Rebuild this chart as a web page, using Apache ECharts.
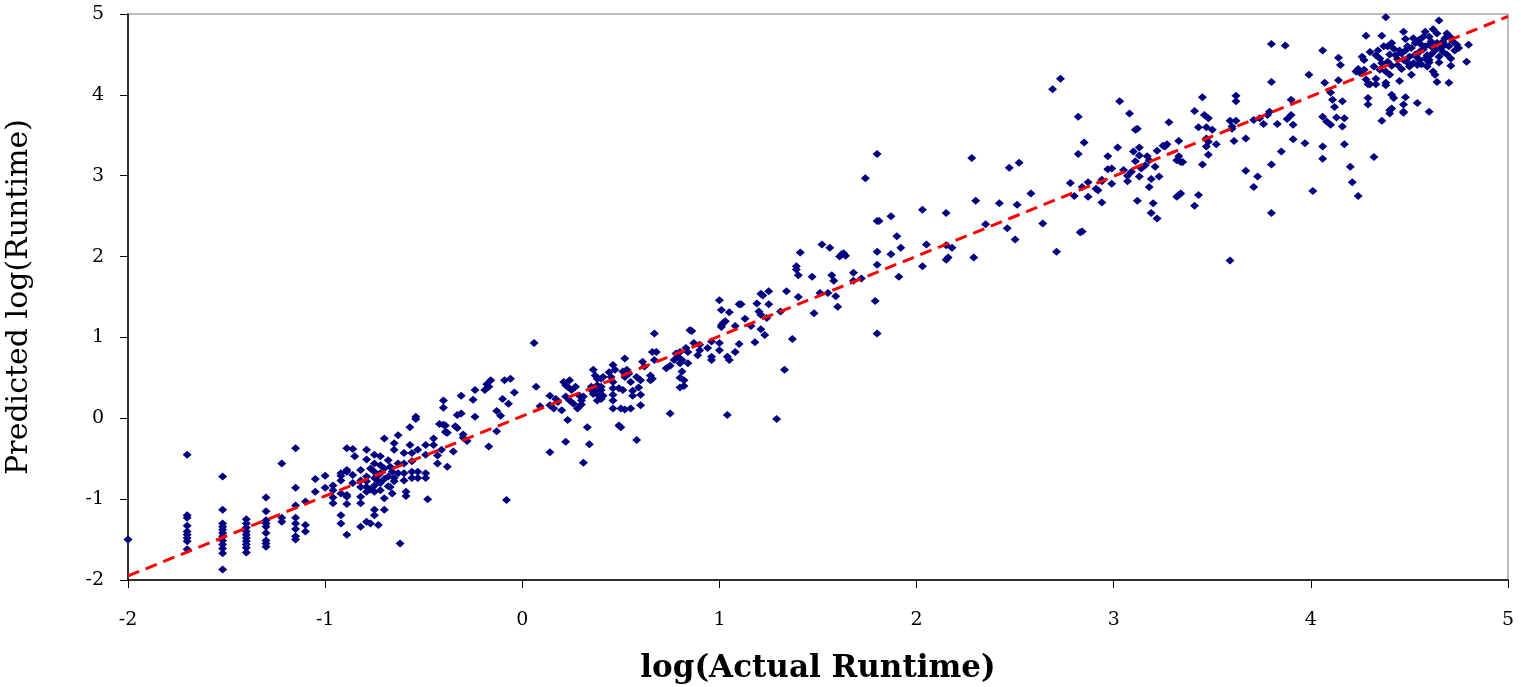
<!DOCTYPE html>
<html>
<head>
<meta charset="utf-8">
<script src="https://cdn.jsdelivr.net/npm/echarts@6/dist/echarts.min.js"></script>
<style>html,body{margin:0;padding:0;background:#fff}#chart{width:1521px;height:687px}</style>
</head>
<body>
<div id="chart"></div>
<script>
// Axis ticks
const xTicks = [-2, -1, 0, 1, 2, 3, 4, 5];
const yTicks = [-2, -1, 0, 1, 2, 3, 4, 5];
const xTitle = 'log(Actual Runtime)';
const yTitle = 'Predicted log(Runtime)';
// Reference (dashed) line end points
const refLine = [[-2, -1.95], [5, 4.97]];

// Observations [log actual, predicted log], grouped by region
const groupA = [
[-2.0,-1.5],
[-1.70,-0.45],[-1.70,-1.20],[-1.70,-1.23],[-1.70,-1.33],[-1.70,-1.40],[-1.70,-1.44],[-1.70,-1.48],[-1.70,-1.52],[-1.70,-1.62],
[-1.52,-0.72],[-1.52,-1.13],[-1.52,-1.30],[-1.52,-1.34],[-1.52,-1.38],[-1.52,-1.42],[-1.52,-1.46],[-1.52,-1.51],[-1.52,-1.56],[-1.52,-1.61],[-1.52,-1.67],[-1.52,-1.87],
[-1.40,-1.25],[-1.40,-1.30],[-1.40,-1.35],[-1.40,-1.40],[-1.40,-1.44],[-1.40,-1.48],[-1.40,-1.52],[-1.40,-1.56],[-1.40,-1.60],[-1.40,-1.66],
[-1.30,-0.98],[-1.30,-1.15],[-1.30,-1.26],[-1.30,-1.30],[-1.30,-1.34],[-1.30,-1.42],[-1.30,-1.51],[-1.30,-1.55],[-1.30,-1.59],
[-1.22,-0.56],[-1.22,-1.23],[-1.22,-1.28],
[-1.15,-0.37],[-1.15,-0.86],[-1.15,-1.08],[-1.15,-1.23],[-1.15,-1.30],[-1.15,-1.37],[-1.15,-1.46],[-1.15,-1.50],
[-1.10,-1.03],[-1.10,-1.32],[-1.10,-1.40]
];
const groupB = [
[-1.05,-0.75],[-1.05,-0.91],[-1.00,-0.71],[-1.00,-0.86],
[-0.96,-0.83],[-0.96,-0.89],[-0.96,-0.98],[-0.96,-1.05],
[-0.92,-0.68],[-0.92,-0.71],[-0.92,-0.77],[-0.92,-0.93],[-0.92,-1.20],[-0.92,-1.30],
[-0.89,-0.37],[-0.89,-0.64],[-0.89,-0.66],[-0.89,-0.95],[-0.89,-0.97],[-0.89,-1.06],[-0.89,-1.44],
[-0.86,-0.38],[-0.85,-0.47],[-0.86,-0.70],[-0.86,-0.80],
[-0.82,-0.64],[-0.82,-0.77],[-0.82,-0.85],[-0.82,-0.97],[-0.82,-1.05],[-0.82,-1.34],
[-0.79,-0.39],[-0.79,-0.51],[-0.79,-0.72],[-0.79,-0.78],[-0.79,-0.85],[-0.79,-0.91],[-0.79,-1.28],
[-0.77,-1.30],[-0.77,-0.62],[-0.77,-0.88],
[-0.75,-0.45],[-0.75,-0.56],[-0.75,-0.66],[-0.75,-0.74],[-0.75,-0.83],[-0.75,-0.91],[-0.75,-1.13],[-0.75,-1.20],
[-0.73,-1.32],[-0.73,-0.70],[-0.73,-0.78],
[-0.72,-0.47],[-0.72,-0.58],[-0.72,-0.68],[-0.72,-0.80],[-0.72,-0.89],
[-0.70,-0.25],[-0.70,-0.99],[-0.70,-1.13],[-0.70,-0.62],[-0.70,-0.75],
[-0.68,-0.52],[-0.68,-0.72],[-0.68,-0.84],
[-0.67,-0.60],[-0.67,-0.85],[-0.66,-0.66],[-0.66,-0.93],
[-0.65,-0.31],[-0.65,-0.39],[-0.65,-0.74],[-0.65,-0.78],
[-0.63,-0.21],[-0.62,-1.55],[-0.63,-0.56],[-0.63,-0.68],
[-0.60,-0.43],[-0.60,-0.56],[-0.60,-0.68],[-0.60,-0.77],
[-0.59,-0.91],[-0.59,-0.96],
[-0.57,-0.11],[-0.57,-0.33],
[-0.56,-0.43],[-0.56,-0.53],[-0.56,-0.66],[-0.56,-0.74],
[-0.54,0.02],[-0.54,-0.01],
[-0.53,-0.39],[-0.53,-0.66],[-0.53,-0.74],
[-0.49,-0.33],[-0.49,-0.45],[-0.49,-0.68],[-0.49,-0.74],
[-0.48,-1.00],
[-0.45,-0.25],[-0.45,-0.33],[-0.43,-0.46],[-0.43,-0.56],
[-0.40,-0.08],[-0.39,-0.17],[-0.41,-0.39],[-0.38,-0.60],[-0.35,-0.41],
[-0.40,0.22],[-0.40,0.13],[-0.38,-0.18],[-0.42,-0.07],[-0.39,-0.09],[-0.34,-0.10],
[-0.33,0.04],[-0.31,0.06],[-0.33,-0.12],[-0.30,-0.24],[-0.28,-0.28],[-0.30,-0.20]
];
const groupC = [
[-0.31,0.28],[-0.25,0.23],[-0.24,0.35],[-0.24,0.02],
[-0.19,0.35],[-0.18,0.42],[-0.16,0.47],[-0.17,0.39],[-0.17,-0.35],
[-0.09,0.47],[-0.06,0.49],
[-0.04,0.32],[-0.10,0.24],[-0.07,0.18],[-0.13,0.09],[-0.11,0.03],[-0.13,-0.16],[-0.08,-1.01],
[0.06,0.93],[0.07,0.39],[0.09,0.15],
[0.14,0.28],[0.17,0.24],[0.18,0.20],[0.14,0.16],[0.16,0.12],[0.20,0.10],[0.14,-0.42],
[0.23,-0.02],[0.22,-0.29],
[0.21,0.45],[0.24,0.47],[0.23,0.39],[0.27,0.39],[0.22,0.41],[0.25,0.35],[0.22,0.27],[0.24,0.22],[0.26,0.18],
[0.29,0.28],[0.30,0.17],[0.28,0.12],[0.30,0.22],[0.31,0.27],
[0.36,0.60],[0.37,0.53],
[0.33,-0.11],[0.34,-0.32],[0.31,-0.55],
[0.35,0.39],[0.35,0.35],[0.36,0.30],[0.37,0.33],
[0.38,0.49],[0.38,0.41],[0.40,0.35],[0.39,0.28],[0.40,0.24],[0.38,0.22],
[0.40,0.49],[0.41,0.51],[0.40,0.39],[0.41,0.28],
[0.44,0.57],[0.46,0.66],[0.47,0.60],[0.45,0.51],
[0.46,0.45],[0.46,0.37],[0.46,0.29],[0.46,0.22],[0.46,0.12],
[0.49,-0.09],[0.50,-0.11],
[0.49,0.37],[0.51,0.35],
[0.52,0.74],[0.51,0.58],[0.53,0.60],[0.54,0.55],[0.52,0.51],
[0.55,0.45],[0.56,0.34],[0.56,0.28],[0.55,0.12],[0.50,0.12],[0.52,0.11],
[0.58,-0.27],
[0.61,0.70],[0.62,0.64],[0.60,0.47],[0.60,0.29],[0.60,0.16],[0.59,0.38],[0.58,0.51]
];
const groupD = [
[0.65,0.53],[0.66,0.49],[0.65,0.47],[0.66,0.82],[0.68,0.82],[0.67,0.72],[0.67,1.05],
[0.73,0.62],[0.75,0.65],[0.75,0.06],
[0.77,0.72],[0.79,0.76],[0.80,0.68],[0.81,0.72],[0.78,0.80],[0.80,0.82],
[0.80,0.50],[0.80,0.38],[0.82,0.40],
[0.83,0.87],[0.84,0.82],[0.84,0.68],[0.85,1.09],[0.86,1.08],
[0.87,0.93],[0.90,0.91],[0.89,0.78],[0.90,0.84],
[0.94,0.87],[0.96,0.76],[0.96,0.72],[0.96,0.95],
[1.00,0.93],[1.00,0.84],[1.04,0.76],[1.05,0.72],[1.08,0.82],[1.04,0.04],
[0.81,0.58],[0.82,0.47],
[1.00,1.46],[1.01,1.34],[1.05,1.31],[1.10,1.41],[1.01,1.15],[1.02,1.18],[1.03,1.20],
[1.10,0.92],[1.18,0.94],[1.23,1.03],[1.21,1.10],[1.16,1.14],[1.08,1.14],[1.01,1.13],
[1.13,1.23],[1.20,1.32],[1.21,1.28],[1.24,1.24],
[1.11,1.41],[1.19,1.42],[1.25,1.41],
[1.21,1.54],[1.22,1.52],[1.25,1.57],[1.34,1.57],[1.31,1.32],
[1.37,0.98],[1.33,0.60],[1.29,-0.01]
];
const groupE = [
[1.39,1.88],[1.39,1.84],[1.40,1.77],[1.41,2.05],[1.40,1.50],
[1.47,1.75],[1.48,1.30],[1.51,1.55],[1.55,1.55],
[1.52,2.15],[1.56,2.11],
[1.57,1.77],[1.58,1.70],[1.59,1.51],[1.60,1.38],
[1.61,2.00],[1.62,2.03],[1.63,2.04],[1.64,2.01],
[1.68,1.80],[1.68,1.70],[1.72,1.73],
[1.74,2.97],[1.80,3.27],
[1.79,1.45],[1.80,1.05],
[1.80,2.44],[1.81,2.44],[1.80,2.06],[1.80,1.90],
[1.87,2.50],[1.87,2.03],[1.90,2.25],[1.92,2.11],[1.91,1.75],
[2.03,2.58],[2.03,1.88],[2.05,2.15],
[2.15,2.54],[2.15,2.14],[2.15,1.96],[2.16,1.99],[2.18,2.11],
[2.28,3.22],[2.29,1.99],[2.30,2.69],[2.35,2.40],
[2.42,2.66],[2.46,2.35],[2.47,3.10],[2.50,2.21],[2.51,2.64],[2.52,3.16],
[2.58,2.78],[2.64,2.41],[2.71,2.06]
];
const groupF = [
[2.69,4.07],[2.73,4.20],
[2.78,2.91],[2.80,2.75],[2.82,3.73],[2.85,3.41],[2.82,3.27],[2.83,2.30],[2.84,2.31],
[2.84,2.86],[2.87,2.92],[2.87,2.74],[2.91,2.84],[2.92,2.82],[2.94,2.93],[2.94,2.67],
[2.97,3.24],[2.97,3.08],[2.99,3.09],[2.99,2.90],[2.94,2.95],
[3.02,3.35],[3.03,3.92],[3.08,3.77],
[3.05,3.07],[3.07,3.00],[3.09,3.05],[3.11,3.18],[3.10,3.30],[3.13,3.25],[3.13,3.35],
[3.07,2.93],[3.11,3.57],[3.12,3.58],
[3.13,2.99],[3.14,3.09],[3.16,3.13],[3.12,2.69],[3.18,2.86],[3.20,2.66],[3.19,2.54],[3.22,2.47],
[3.17,3.24],[3.18,3.19],[3.21,3.11],[3.19,2.96],[3.23,2.99],
[3.22,3.31],[3.25,3.37],[3.27,3.39],[3.26,3.36],
[3.28,3.66],
[3.32,3.19],[3.33,3.24],[3.34,3.17],[3.35,3.17],[3.33,3.43],
[3.32,2.74],[3.33,2.76],[3.34,2.78],
[3.41,3.80],[3.45,3.97],[3.46,3.75],[3.48,3.71],[3.43,3.60],[3.47,3.60],[3.50,3.57],
[3.47,3.46],[3.48,3.42],[3.47,3.36],[3.52,3.39],[3.48,3.26],[3.45,3.14],[3.43,2.76],[3.41,2.63],
[3.59,3.68],[3.62,3.68],[3.60,3.58],[3.61,3.43],[3.62,3.92],[3.62,3.99],[3.59,1.95],
[3.60,3.61],[3.67,3.46],[3.67,3.06],[3.73,2.99],[3.71,2.86],[3.71,3.69]
];
const groupG = [
[3.80,4.63],[3.87,4.61],[4.06,4.55],[3.80,4.16],[3.99,4.25],
[4.14,4.46],[4.15,4.37],[4.07,4.15],[4.14,4.18],
[4.10,4.03],[4.11,3.94],[4.12,3.85],[4.16,3.92],[3.90,3.94],
[3.79,3.79],[3.78,3.75],[3.74,3.71],[3.76,3.64],[3.88,3.70],[3.90,3.75],[3.83,3.64],[3.91,3.63],
[4.06,3.73],[4.08,3.67],[4.10,3.63],[4.13,3.72],[4.17,3.71],[4.16,3.61],
[3.91,3.45],[3.97,3.40],[4.06,3.36],[4.17,3.39],
[3.85,3.30],[4.06,3.21],[3.80,3.14],[4.32,3.23],
[4.20,3.11],[4.21,2.92],[4.24,2.75],[4.01,2.81],[3.80,2.54],
[4.38,4.96],[4.65,4.92],
[4.28,4.73],[4.36,4.73],[4.47,4.78],[4.48,4.69],
[4.58,4.78],[4.60,4.72],[4.62,4.81],[4.64,4.76],[4.69,4.76],[4.71,4.71],
[4.72,4.66],[4.67,4.66],[4.80,4.62],[4.75,4.58],[4.79,4.41],
[4.71,4.45],[4.71,4.36],[4.70,4.15],[4.64,4.16],[4.62,4.29],[4.63,4.25],[4.59,4.35],
[4.54,4.37],[4.51,4.25],[4.45,4.17],[4.40,4.25],
[4.41,4.00],[4.42,3.96],[4.40,3.81],[4.48,3.97],[4.47,3.88],[4.47,3.79],[4.54,3.90],[4.60,3.79],
[4.38,4.15],[4.33,4.20],[4.28,4.19],[4.30,4.13],
[4.24,4.32],[4.23,4.29],[4.27,4.31],
[4.29,3.96],[4.29,3.88],
[4.36,3.68],[4.47,3.78],[4.40,3.77],[4.41,3.83],
[4.38,4.12],[4.33,4.13],[4.29,4.13]
];
const groupH = [
[4.26,4.47],[4.27,4.43],[4.30,4.53],[4.33,4.49],[4.35,4.45],[4.37,4.60],[4.39,4.41],[4.41,4.64],[4.43,4.49],[4.44,4.37],
[4.45,4.55],[4.47,4.43],[4.49,4.60],[4.50,4.47],[4.52,4.39],[4.53,4.64],[4.55,4.53],[4.55,4.43],[4.57,4.72],[4.58,4.60],
[4.59,4.49],[4.60,4.43],[4.61,4.66],[4.63,4.55],[4.65,4.47],[4.66,4.62],[4.67,4.53],[4.68,4.70],[4.70,4.60],
[4.23,4.29],[4.25,4.27],[4.32,4.35],[4.35,4.31],[4.38,4.29],
[4.40,4.50],[4.42,4.57],[4.46,4.51],[4.48,4.55],[4.51,4.58],[4.53,4.50],[4.56,4.62],[4.57,4.56],[4.62,4.58],[4.64,4.64],
[4.66,4.58],[4.68,4.62],[4.44,4.44],[4.49,4.40],[4.54,4.46],[4.58,4.45],[4.61,4.50],[4.36,4.39],[4.41,4.36],[4.46,4.32],
[4.50,4.35],[4.56,4.38],[4.60,4.40],[4.65,4.40],[4.69,4.50],[4.73,4.55],[4.74,4.62],[4.34,4.55],[4.39,4.60],[4.52,4.70],
[4.55,4.68],[4.60,4.62]
];

const points = [].concat(groupA, groupB, groupC, groupD, groupE, groupF, groupG, groupH);

const chart = echarts.init(document.getElementById('chart'), null, {renderer: 'canvas'});
const font = '"DejaVu Serif", "Liberation Serif", serif';
chart.setOption({
  animation: false,
  backgroundColor: '#ffffff',
  grid: {left: 128, right: 13, top: 14, bottom: 107, show: true, borderColor: '#a6a6a6', borderWidth: 1.5,
         containLabel: false, outerBoundsMode: 'none'},
  xAxis: {
    type: 'value', min: xTicks[0], max: xTicks[xTicks.length - 1], interval: 1,
    name: xTitle, nameLocation: 'middle', nameGap: 73,
    nameTextStyle: {fontFamily: font, fontSize: 31, fontWeight: 'bold', color: '#000'},
    axisLine: {onZero: false, lineStyle: {color: '#000', width: 1.5}},
    axisTick: {inside: false, length: 8, lineStyle: {color: '#000', width: 1}},
    axisLabel: {margin: 31, fontFamily: font, fontSize: 19, color: '#000'},
    splitLine: {show: false}
  },
  yAxis: {
    type: 'value', min: yTicks[0], max: yTicks[yTicks.length - 1], interval: 1,
    name: yTitle, nameLocation: 'middle', nameGap: 94,
    nameTextStyle: {fontFamily: font, fontSize: 30, color: '#000'},
    axisLine: {onZero: false, lineStyle: {color: '#000', width: 1.5}},
    axisTick: {inside: false, length: 8, lineStyle: {color: '#000', width: 1}},
    axisLabel: {margin: 24, fontFamily: font, fontSize: 19, color: '#000'},
    splitLine: {show: false}
  },
  series: [
    {
      type: 'scatter', data: points, symbol: 'diamond', symbolSize: [9, 8],
      itemStyle: {color: '#000080', opacity: 1}, z: 2
    },
    {
      type: 'line', data: refLine, symbol: 'none', silent: true, z: 3,
      lineStyle: {color: '#ff0000', width: 3, type: [12, 7]}
    }
  ]
});
</script>
</body>
</html>
